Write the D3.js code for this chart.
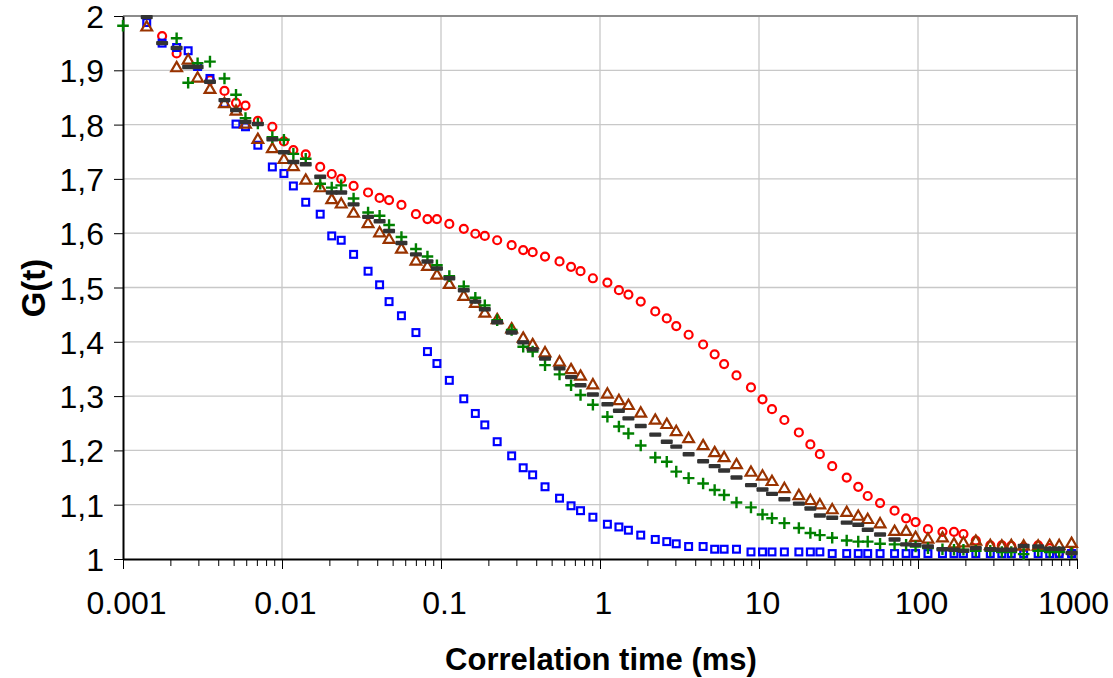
<!DOCTYPE html>
<html><head><meta charset="utf-8">
<script src="https://cdn.jsdelivr.net/npm/d3@7"></script>
<style>html,body{margin:0;padding:0;background:#fff;}svg{display:block;font-family:"Liberation Sans",Arial,sans-serif;}</style>
</head><body><svg id="c" width="1113" height="678"></svg>
<script>
const lags = [
0.001, 0.00141, 0.001762, 0.002174, 0.002569, 0.002946, 0.003524, 0.004347, 0.005138, 0.005893,
0.007049, 0.008695, 0.01028, 0.01179, 0.0141, 0.01739, 0.02055, 0.02357, 0.0282, 0.03478,
0.0411, 0.04714, 0.05639, 0.06956, 0.0822, 0.09428, 0.1128, 0.1391, 0.1644, 0.1886,
0.2256, 0.2782, 0.3288, 0.3771, 0.4511, 0.5565, 0.6576, 0.7543, 0.9022, 1.113,
1.315, 1.509, 1.804, 2.226, 2.63, 3.017, 3.609, 4.452, 5.261, 6.034,
7.218, 8.903, 10.52, 12.07, 14.44, 17.81, 21.04, 24.14, 28.87, 35.61,
42.09, 48.27, 57.74, 71.23, 84.17, 96.55, 115.5, 142.5, 168.4, 193.1,
231, 284.9, 336.7, 386.2, 461.9, 569.8, 673.4, 772.4, 923.9];

const redCircles = [
null, null, 1.963, 1.931, null, null, 1.882, 1.862, 1.840, 1.835,
1.807, 1.796, 1.769, 1.753, 1.745, 1.722, 1.709, 1.700, 1.687, 1.675,
1.665, 1.661, 1.652, 1.635, 1.626, 1.626, 1.617, 1.608, 1.599, 1.595,
1.587, 1.578, 1.569, 1.565, 1.557, 1.548, 1.538, 1.530, 1.517, 1.509,
1.495, 1.487, 1.474, 1.456, 1.443, 1.429, 1.413, 1.395, 1.377, 1.359,
1.338, 1.316, 1.294, 1.276, 1.256, 1.233, 1.211, 1.193, 1.171, 1.150,
1.133, 1.116, 1.103, 1.089, 1.075, 1.068, 1.055, 1.050, 1.050, 1.046,
1.034, 1.025, 1.025, 1.024, 1.022, 1.025, 1.020, 1.011, 1.011];

const blueSquares = [
null, 1.988, 1.950, 1.942, 1.936, 1.907, 1.885, 1.839, 1.801, 1.796,
1.762, 1.722, 1.710, 1.687, 1.657, 1.635, 1.595, 1.587, 1.561, 1.530,
1.505, 1.474, 1.448, 1.417, 1.382, 1.360, 1.329, 1.295, 1.268, 1.247,
1.216, 1.190, 1.168, 1.155, 1.133, 1.112, 1.098, 1.089, 1.077, 1.064,
1.059, 1.053, 1.044, 1.036, 1.032, 1.028, 1.023, 1.023, 1.018, 1.018,
1.018, 1.013, 1.013, 1.013, 1.013, 1.013, 1.013, 1.013, 1.010, 1.010,
1.010, 1.010, 1.010, 1.010, 1.010, 1.010, 1.010, 1.010, 1.010, 1.010,
1.010, 1.010, 1.010, 1.010, 1.010, 1.010, 1.010, 1.010, 1.010];

const brownTriangles = [
null, 1.979, null, 1.904, 1.918, 1.885, 1.864, 1.838, 1.824, 1.800,
1.772, 1.755, 1.735, 1.722, 1.697, 1.683, 1.661, 1.653, 1.636, 1.617,
1.600, 1.588, 1.570, 1.548, 1.538, 1.522, 1.505, 1.483, 1.470, 1.452,
1.440, 1.423, 1.406, 1.394, 1.379, 1.362, 1.348, 1.336, 1.320, 1.303,
1.291, 1.282, 1.268, 1.255, 1.247, 1.234, 1.221, 1.208, 1.195, 1.186,
1.173, 1.159, 1.152, 1.142, 1.129, 1.116, 1.107, 1.099, 1.090, 1.085,
1.078, 1.072, 1.064, 1.050, 1.050, 1.039, 1.036, 1.038, 1.027, 1.029,
1.032, 1.024, 1.023, 1.024, 1.023, 1.023, 1.024, 1.024, 1.028];

const greenPluses = [
1.982, null, null, 1.959, 1.877, 1.913, 1.916, 1.885, 1.855, 1.812,
1.802, 1.777, 1.772, 1.746, 1.737, 1.691, 1.684, 1.688, 1.664, 1.638,
1.632, 1.615, 1.593, 1.571, 1.557, 1.541, 1.521, 1.502, 1.481, 1.467,
1.440, 1.422, 1.391, 1.382, 1.357, 1.340, 1.320, 1.302, 1.284, 1.262,
1.244, 1.231, 1.209, 1.187, 1.179, 1.161, 1.149, 1.139, 1.127, 1.118,
1.104, 1.095, 1.082, 1.075, 1.066, 1.057, 1.048, 1.044, 1.039, 1.034,
1.032, 1.032, 1.028, 1.027, 1.026, 1.023, 1.020, 1.018, 1.017, 1.017,
1.015, 1.015, 1.013, 1.013, 1.009, 1.015, 1.013, 1.013, 1.011];

const grayDashes = [
null, 1.998, 1.950, 1.941, 1.906, 1.906, 1.879, 1.845, 1.827, 1.805,
1.801, 1.773, 1.749, 1.731, 1.727, 1.704, 1.675, 1.675, 1.653, 1.630,
1.622, 1.604, 1.582, 1.561, 1.548, 1.535, 1.517, 1.495, 1.474, 1.460,
1.436, 1.417, 1.399, 1.386, 1.369, 1.351, 1.335, 1.320, 1.303, 1.285,
1.273, 1.259, 1.245, 1.229, 1.216, 1.207, 1.193, 1.180, 1.171, 1.163,
1.150, 1.136, 1.128, 1.120, 1.110, 1.102, 1.093, 1.080, 1.076, 1.067,
1.063, 1.054, 1.045, 1.036, 1.027, 1.026, 1.023, 1.018, 1.017, 1.015,
1.020, 1.018, 1.017, 1.017, 1.024, 1.023, 1.019, 1.019, 1.011];

const xTickValues = [0.001, 0.01, 0.1, 1, 10, 100, 1000];
const xTickLabels = ["0.001", "0.01", "0.1", "1", "10", "100", "1000"];
const yTickValues = [1, 1.1, 1.2, 1.3, 1.4, 1.5, 1.6, 1.7, 1.8, 1.9, 2];
const yTickLabels = ["1", "1,1", "1,2", "1,3", "1,4", "1,5", "1,6", "1,7", "1,8", "1,9", "2"];
const xTitle = "Correlation time (ms)";
const yTitle = "G(t)";

const L = 123, R = 1077, T = 16, B = 559;
const svg = d3.select("#c");
const x = d3.scaleLog().domain([0.001, 1000]).range([L, R]);
const y = d3.scaleLinear().domain([1, 2]).range([B, T]);

// grid
const g = svg.append("g");
g.selectAll(".hg").data(yTickValues.slice(1, -1)).join("line")
  .attr("x1", L).attr("x2", R).attr("y1", d => y(d)).attr("y2", d => y(d))
  .attr("stroke", "#c8c8c8").attr("stroke-width", 1.3);
g.selectAll(".vg").data(xTickValues.slice(1, -1)).join("line")
  .attr("x1", d => x(d)).attr("x2", d => x(d)).attr("y1", T).attr("y2", B)
  .attr("stroke", "#c8c8c8").attr("stroke-width", 1.3);
// top/right border
svg.append("path").attr("d", `M${L},${T}H${R}V${B}`).attr("fill", "none")
  .attr("stroke", "#8c8c8c").attr("stroke-width", 2);

// axes
const xAxis = d3.axisBottom(x).tickValues(xTickValues).tickFormat((d, i) => xTickLabels[i])
  .tickSizeInner(10).tickSizeOuter(0).tickPadding(22);
const xa = svg.append("g").attr("transform", `translate(0,${B})`).call(xAxis);
// minor ticks
const minor = [];
for (let e = -3; e < 3; e++) for (let k = 2; k <= 9; k++) minor.push(k * Math.pow(10, e));
xa.selectAll(".minor").data(minor).join("line").attr("class", "minor")
  .attr("x1", d => x(d)).attr("x2", d => x(d)).attr("y1", 0).attr("y2", 7)
  .attr("stroke", "#000").attr("stroke-width", 1);
const yAxis = d3.axisLeft(y).tickValues(yTickValues).tickFormat((d, i) => yTickLabels[i])
  .tickSizeInner(9).tickSizeOuter(0).tickPadding(10);
const ya = svg.append("g").attr("transform", `translate(${L},0)`).call(yAxis);
[xa, ya].forEach(a => {
  a.select(".domain").attr("stroke", "#000").attr("stroke-width", 2);
  a.selectAll(".tick line").attr("stroke", "#000").attr("stroke-width", 1);
  a.selectAll(".tick text").attr("font-size", 32).attr("fill", "#000")
    .attr("font-family", "Liberation Sans, Arial, sans-serif");
});
ya.selectAll(".tick text").attr("dy", "0.36em");
xa.selectAll(".tick text").attr("dx", (d, i) => i === xTickValues.length - 1 ? -4 : 3);

// titles
svg.append("text").attr("x", 601).attr("y", 670).attr("text-anchor", "middle")
  .attr("font-size", 31).attr("font-weight", "bold").text(xTitle);
svg.append("text").attr("transform", "translate(45,288) rotate(-90)").attr("text-anchor", "middle")
  .attr("font-size", 33).attr("font-weight", "bold").text(yTitle);

// markers
function pts(arr) { return lags.map((t, i) => ({t, v: arr[i]})).filter(d => d.v != null); }
const mk = svg.append("g");
mk.selectAll(".red").data(pts(redCircles)).join("circle")
  .attr("cx", d => x(d.t)).attr("cy", d => y(d.v)).attr("r", 4)
  .attr("fill", "none").attr("stroke", "#ff0000").attr("stroke-width", 2.2);
mk.selectAll(".blue").data(pts(blueSquares)).join("rect")
  .attr("x", d => x(d.t) - 3.4).attr("y", d => y(d.v) - 3.4).attr("width", 6.8).attr("height", 6.8)
  .attr("fill", "none").attr("stroke", "#0000ff").attr("stroke-width", 2.2);
const tri = d3.symbol().type(d3.symbolTriangle).size(50);
mk.selectAll(".tri").data(pts(brownTriangles)).join("path")
  .attr("d", tri).attr("transform", d => `translate(${x(d.t)},${y(d.v)})`)
  .attr("fill", "none").attr("stroke", "#993300").attr("stroke-width", 2.2);
mk.selectAll(".plus").data(pts(greenPluses)).join("path")
  .attr("d", "M-5.8,0H5.8M0,-5.8V5.8").attr("transform", d => `translate(${x(d.t)},${y(d.v)})`)
  .attr("fill", "none").attr("stroke", "#008000").attr("stroke-width", 2.4);
mk.selectAll(".dash").data(pts(grayDashes)).join("rect")
  .attr("x", d => x(d.t) - 6).attr("y", d => y(d.v) - 2.2).attr("width", 12).attr("height", 4.4)
  .attr("rx", 1).attr("fill", "#333333");
</script></body></html>
